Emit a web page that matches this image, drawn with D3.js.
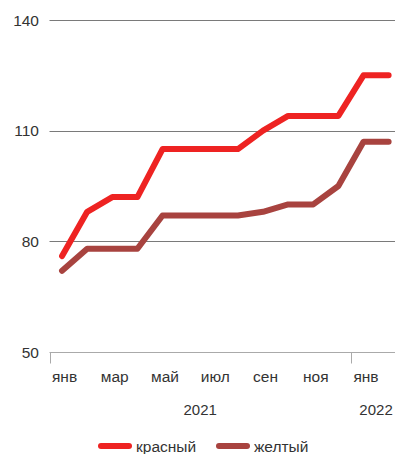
<!DOCTYPE html>
<html>
<head>
<meta charset="utf-8">
<script src="https://cdn.jsdelivr.net/npm/d3@7"></script>
<style>
  html, body { margin: 0; padding: 0; background: #fff; }
  svg { display: block; font-family: "Liberation Sans", Arial, sans-serif; }
</style>
</head>
<body>
<svg id="chart" width="395" height="454"></svg>
<script>
// Monthly index values, Jan 2021 – Feb 2022
const months = ["2021-01","2021-02","2021-03","2021-04","2021-05","2021-06","2021-07",
                "2021-08","2021-09","2021-10","2021-11","2021-12","2022-01","2022-02"];
const monthLabels = ["янв","фев","мар","апр","май","июн","июл","авг","сен","окт","ноя","дек","янв","фев"];
const red    = [76, 88, 92, 92, 105, 105, 105, 105, 110, 114, 114, 114, 125, 125];
const brown  = [72, 78, 78, 78, 87, 87, 87, 87, 88, 90, 90, 95, 107, 107];
const yTicks = [50, 80, 110, 140];
const years  = [{label: "2021", from: 0, to: 12}, {label: "2022", from: 12, to: 14}];
const seriesNames = ["красный", "желтый"];
const seriesColors = ["#ee2322", "#a8433f"];

const svg = d3.select("#chart");
const left = 49.5, bandW = 25.12;

const x = d3.scaleBand().domain(months).range([left, left + bandW * months.length]).padding(0);
const y = d3.scaleLinear().domain([50, 140]).range([352, 20]);

// horizontal grid
svg.append("g").selectAll("line").data(yTicks.filter(d => d > 50)).join("line")
  .attr("x1", left).attr("x2", 395)
  .attr("y1", d => Math.round(y(d)) + 0.5).attr("y2", d => Math.round(y(d)) + 0.5)
  .attr("stroke", "#7a7a7a").attr("stroke-width", 1);

// y labels
svg.append("g").selectAll("text").data(yTicks).join("text")
  .attr("x", 39).attr("y", d => y(d) + 5.5)
  .attr("text-anchor", "end").attr("font-size", 15.5).attr("fill", "#333")
  .text(d => d);

// x axis baseline
const yBase = Math.round(y(50)) + 0.5;
svg.append("line").attr("x1", left).attr("x2", 395).attr("y1", yBase).attr("y2", yBase)
  .attr("stroke", "#aaaaaa").attr("stroke-width", 1);

// year separator ticks
svg.append("g").selectAll("line").data(years).join("line")
  .attr("x1", d => Math.round(x(months[d.from])) + 0.5)
  .attr("x2", d => Math.round(x(months[d.from])) + 0.5)
  .attr("y1", yBase).attr("y2", yBase + 11)
  .attr("stroke", "#aaaaaa").attr("stroke-width", 1);

// month labels (every other month)
svg.append("g").selectAll("text").data(months.filter((m, i) => i % 2 === 0)).join("text")
  .attr("x", m => x(m) + x.bandwidth() / 2 + 2.5)
  .attr("y", 382)
  .attr("text-anchor", "middle").attr("font-size", 15.5).attr("fill", "#333")
  .text(m => monthLabels[months.indexOf(m)]);

// year labels
svg.append("g").selectAll("text").data(years).join("text")
  .attr("x", d => (x(months[d.from]) + x(months[d.to - 1]) + x.bandwidth()) / 2)
  .attr("y", 415)
  .attr("text-anchor", "middle").attr("font-size", 15).attr("fill", "#333")
  .text(d => d.label);

// lines
const line = d3.line()
  .x((d, i) => x(months[i]) + x.bandwidth() / 2)
  .y(d => y(d));

[red, brown].slice().reverse().forEach((s, k) => {
  const idx = 1 - k;
  svg.append("path").datum(s)
    .attr("d", line)
    .attr("fill", "none")
    .attr("stroke", seriesColors[idx])
    .attr("stroke-width", 6)
    .attr("stroke-linejoin", "round")
    .attr("stroke-linecap", "round");
});

// legend
const legend = svg.append("g");
const legendItems = [{x: 101, tx: 136}, {x: 219, tx: 254}];
legendItems.forEach((p, i) => {
  legend.append("line")
    .attr("x1", p.x).attr("x2", p.x + 28).attr("y1", 446).attr("y2", 446)
    .attr("stroke", seriesColors[i]).attr("stroke-width", 6).attr("stroke-linecap", "round");
  legend.append("text").attr("x", p.tx).attr("y", 451.5)
    .attr("font-size", 15.5).attr("fill", "#333").text(seriesNames[i]);
});
</script>
</body>
</html>
